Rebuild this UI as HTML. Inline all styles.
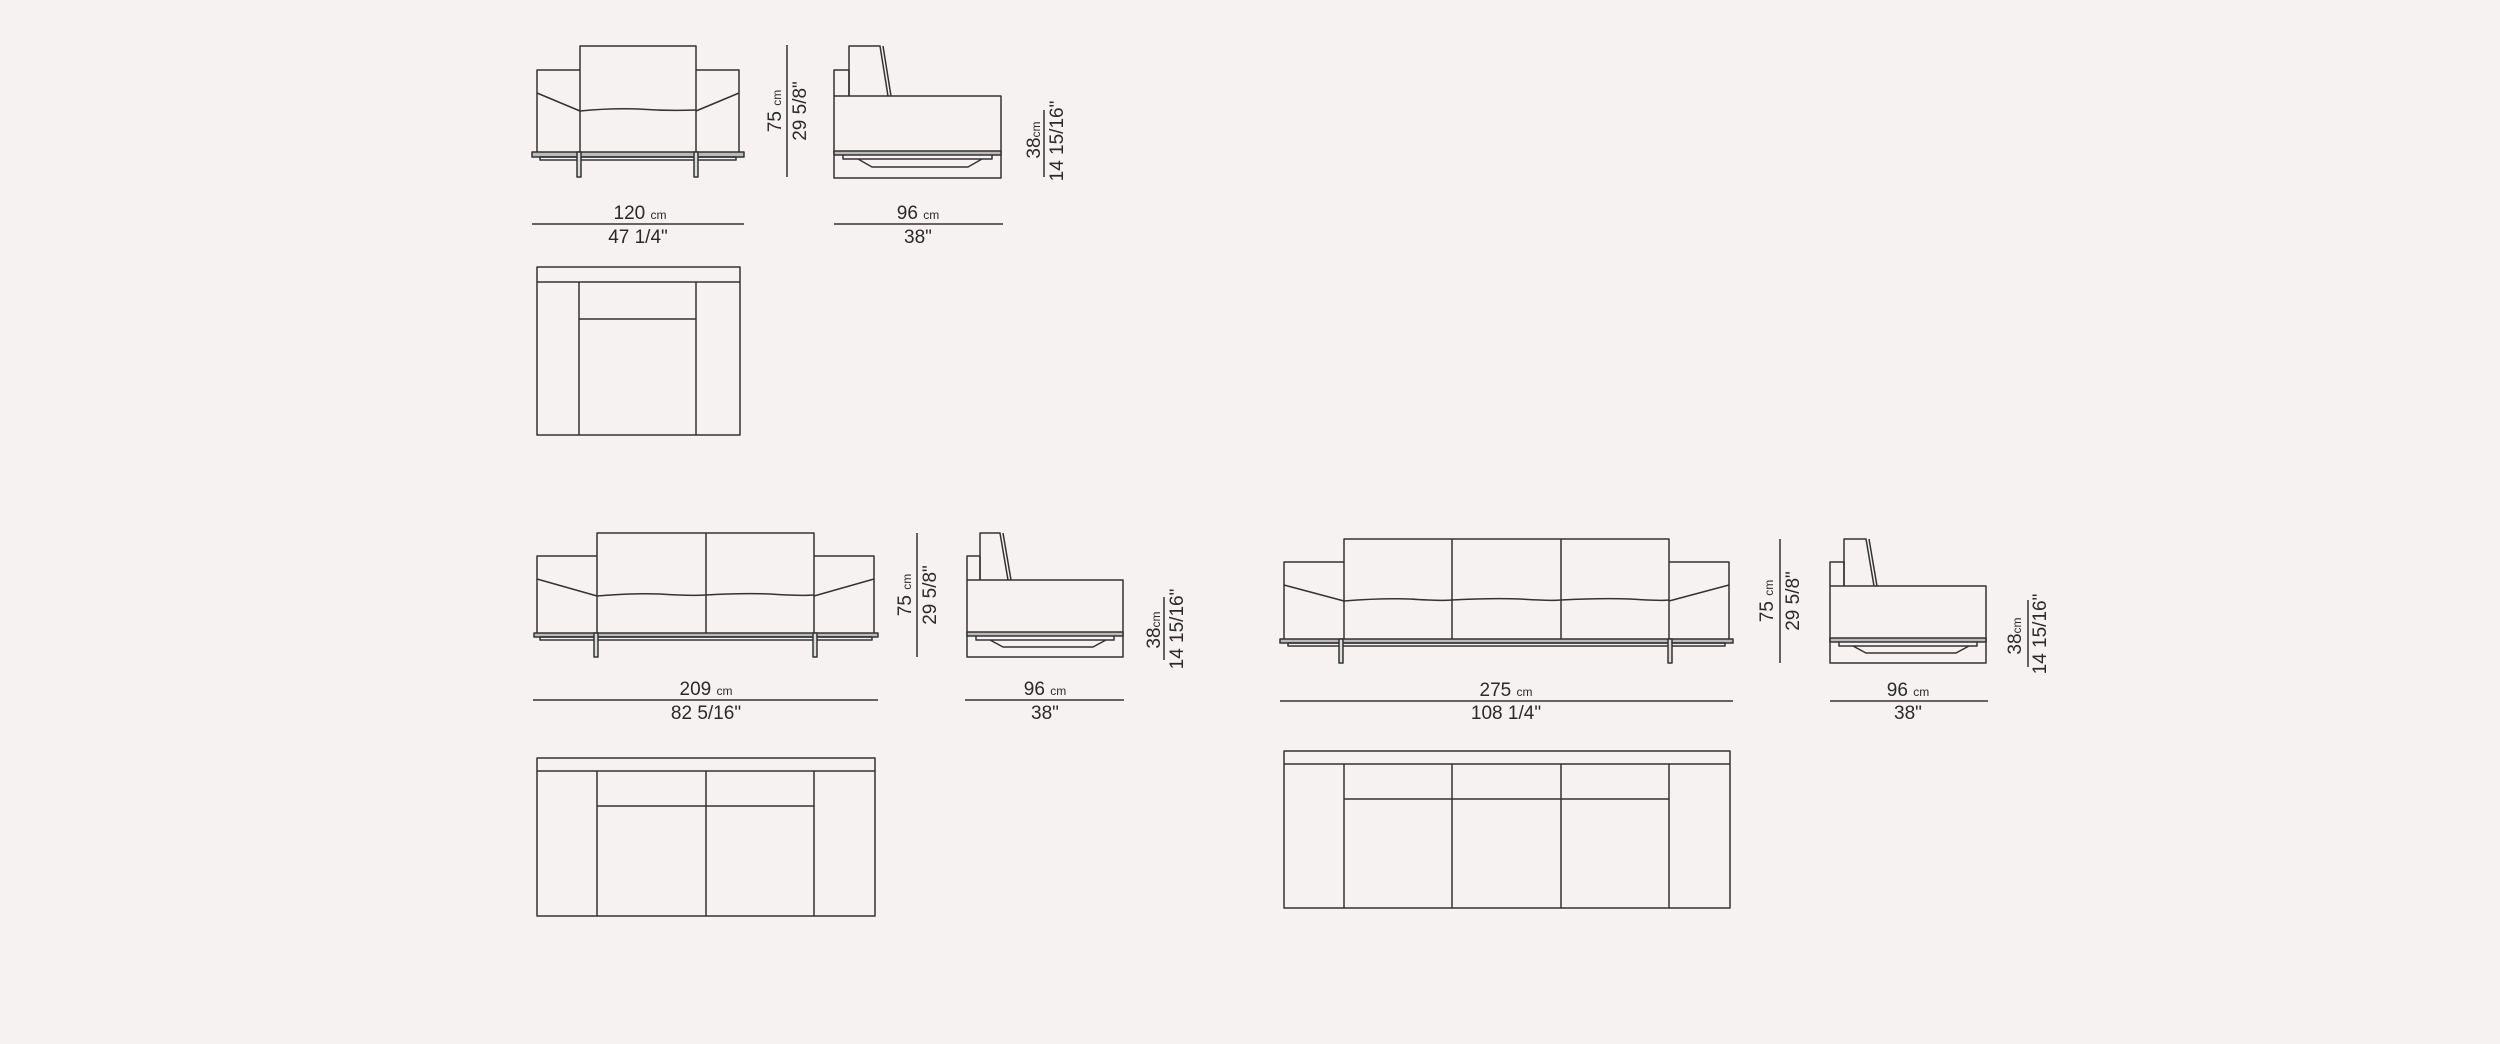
<!DOCTYPE html>
<html><head><meta charset="utf-8"><style>
html,body{margin:0;padding:0;background:#f7f2f2;}
svg{display:block}
text{font-family:"Liberation Sans",sans-serif;fill:#2a2a2a;}
.n{font-size:19px}
.s{font-size:12px}
</style></head><body>
<svg width="2500" height="1044" viewBox="0 0 2500 1044" xmlns="http://www.w3.org/2000/svg">
<rect width="2500" height="1044" fill="#f7f2f2"/>
<g fill="none" stroke="#333" stroke-width="1.5" stroke-linejoin="round">

<!-- ===== Armchair front ===== -->
<path d="M580,70 H537 V152 M696,70 H739 V152"/>
<path d="M580,152 V46 H696 V152"/>
<path d="M537,93 L580,111 M739,93 L696,111"/>
<path d="M580,111 Q610,108 638,109 Q666,111 696,110"/>
<rect x="532" y="152" width="212" height="5" fill="#bbb"/>
<rect x="540" y="157" width="196" height="3"/>
<rect x="577" y="152" width="4" height="25" fill="#ddd"/>
<rect x="694" y="152" width="4" height="25" fill="#ddd"/>
<!-- armchair side -->
<path d="M834,96 V70 H849 V96"/>
<path d="M849,96 V46 H880 L888,96 M883,46 L891,96"/>
<rect x="834" y="96" width="167" height="56"/>
<rect x="834" y="152" width="167" height="26"/>
<rect x="834" y="151" width="167" height="4" fill="#bbb"/>
<path d="M843,155 V159 H992 V155 M858,159 L872,167 H968 L982,159"/>
<!-- armchair top -->
<rect x="537" y="267" width="203" height="168"/>
<path d="M537,282 H740 M579,282 V435 M696,282 V435 M579,319 H696"/>
<!-- dims -->
<path d="M787,45 V177 M1044,110 V177 M532,224 H744 M834,224 H1003"/>

<!-- ===== Sofa 209 front ===== -->
<path d="M597,556 H537 V633 M814,556 H874 V633"/>
<path d="M597,633 V533 H814 V633 M706,533 V633"/>
<path d="M537,579 L597,596 M874,579 L814,596"/>
<path d="M597,596 Q630,593 660,594 Q690,596 706,595 Q740,593 770,594 Q800,596 814,595"/>
<rect x="534" y="633" width="344" height="4" fill="#bbb"/>
<rect x="540" y="637" width="332" height="3"/>
<rect x="594" y="633" width="4" height="24" fill="#ddd"/>
<rect x="813" y="633" width="4" height="24" fill="#ddd"/>
<!-- side -->
<path d="M967,580 V556 H980 V580"/>
<path d="M980,580 V533 H1000 L1008,580 M1003,533 L1011,580"/>
<rect x="967" y="580" width="156" height="53"/>
<rect x="967" y="633" width="156" height="24"/>
<rect x="967" y="632" width="156" height="4" fill="#bbb"/>
<path d="M976,636 V640 H1114 V636 M990,640 L1003,647 H1093 L1106,640"/>
<!-- top -->
<rect x="537" y="758" width="338" height="158"/>
<path d="M537,771 H875 M597,771 V916 M706,771 V916 M814,771 V916 M597,806 H814"/>
<!-- dims -->
<path d="M917,533 V657 M1164,597 V660 M533,700 H878 M965,700 H1124"/>

<!-- ===== Sofa 275 front ===== -->
<path d="M1344,562 H1284 V639 M1669,562 H1729 V639"/>
<path d="M1344,639 V539 H1669 V639 M1452,539 V639 M1561,539 V639"/>
<path d="M1284,585 L1344,601 M1729,585 L1669,601"/>
<path d="M1344,601 Q1380,598 1410,599 Q1440,601 1452,600 Q1490,598 1520,599 Q1550,601 1561,600 Q1600,598 1630,599 Q1660,601 1669,600"/>
<rect x="1280" y="639" width="453" height="4" fill="#bbb"/>
<rect x="1288" y="643" width="437" height="3"/>
<rect x="1339" y="639" width="4" height="24" fill="#ddd"/>
<rect x="1668" y="639" width="4" height="24" fill="#ddd"/>
<!-- side -->
<path d="M1830,586 V562 H1844 V586"/>
<path d="M1844,586 V539 H1866 L1874,586 M1869,539 L1877,586"/>
<rect x="1830" y="586" width="156" height="53"/>
<rect x="1830" y="639" width="156" height="24"/>
<rect x="1830" y="638" width="156" height="4" fill="#bbb"/>
<path d="M1839,642 V646 H1977 V642 M1853,646 L1866,653 H1956 L1969,646"/>
<!-- top -->
<rect x="1284" y="751" width="446" height="157"/>
<path d="M1284,764 H1730 M1344,764 V908 M1452,764 V908 M1561,764 V908 M1669,764 V908 M1344,799 H1669"/>
<!-- dims -->
<path d="M1780,539 V663 M2028,600 V667 M1280,701 H1733 M1830,701 H1988"/>
</g>

<!-- ===== Texts ===== -->
<g text-anchor="middle">
<text x="640" y="219" class="n">120 <tspan class="s">cm</tspan></text>
<text x="638" y="243" class="n">47 1/4"</text>
<text x="918" y="219" class="n">96 <tspan class="s">cm</tspan></text>
<text x="918" y="243" class="n">38"</text>
<text transform="translate(781,111) rotate(-90)" class="n">75 <tspan class="s">cm</tspan></text>
<text transform="translate(806,111) rotate(-90)" class="n">29 5/8"</text>
<text transform="translate(1040,140) rotate(-90)" class="n">38<tspan class="s">cm</tspan></text>
<text transform="translate(1063,141) rotate(-90)" class="n">14 15/16"</text>

<text x="706" y="695" class="n">209 <tspan class="s">cm</tspan></text>
<text x="706" y="719" class="n">82 5/16"</text>
<text x="1045" y="695" class="n">96 <tspan class="s">cm</tspan></text>
<text x="1045" y="719" class="n">38"</text>
<text transform="translate(911,595) rotate(-90)" class="n">75 <tspan class="s">cm</tspan></text>
<text transform="translate(936,595) rotate(-90)" class="n">29 5/8"</text>
<text transform="translate(1160,630) rotate(-90)" class="n">38<tspan class="s">cm</tspan></text>
<text transform="translate(1183,629) rotate(-90)" class="n">14 15/16"</text>

<text x="1506" y="696" class="n">275 <tspan class="s">cm</tspan></text>
<text x="1506" y="719" class="n">108 1/4"</text>
<text x="1908" y="696" class="n">96 <tspan class="s">cm</tspan></text>
<text x="1908" y="719" class="n">38"</text>
<text transform="translate(1773,601) rotate(-90)" class="n">75 <tspan class="s">cm</tspan></text>
<text transform="translate(1799,601) rotate(-90)" class="n">29 5/8"</text>
<text transform="translate(2021,636) rotate(-90)" class="n">38<tspan class="s">cm</tspan></text>
<text transform="translate(2046,634) rotate(-90)" class="n">14 15/16"</text>
</g>
</svg>
</body></html>
